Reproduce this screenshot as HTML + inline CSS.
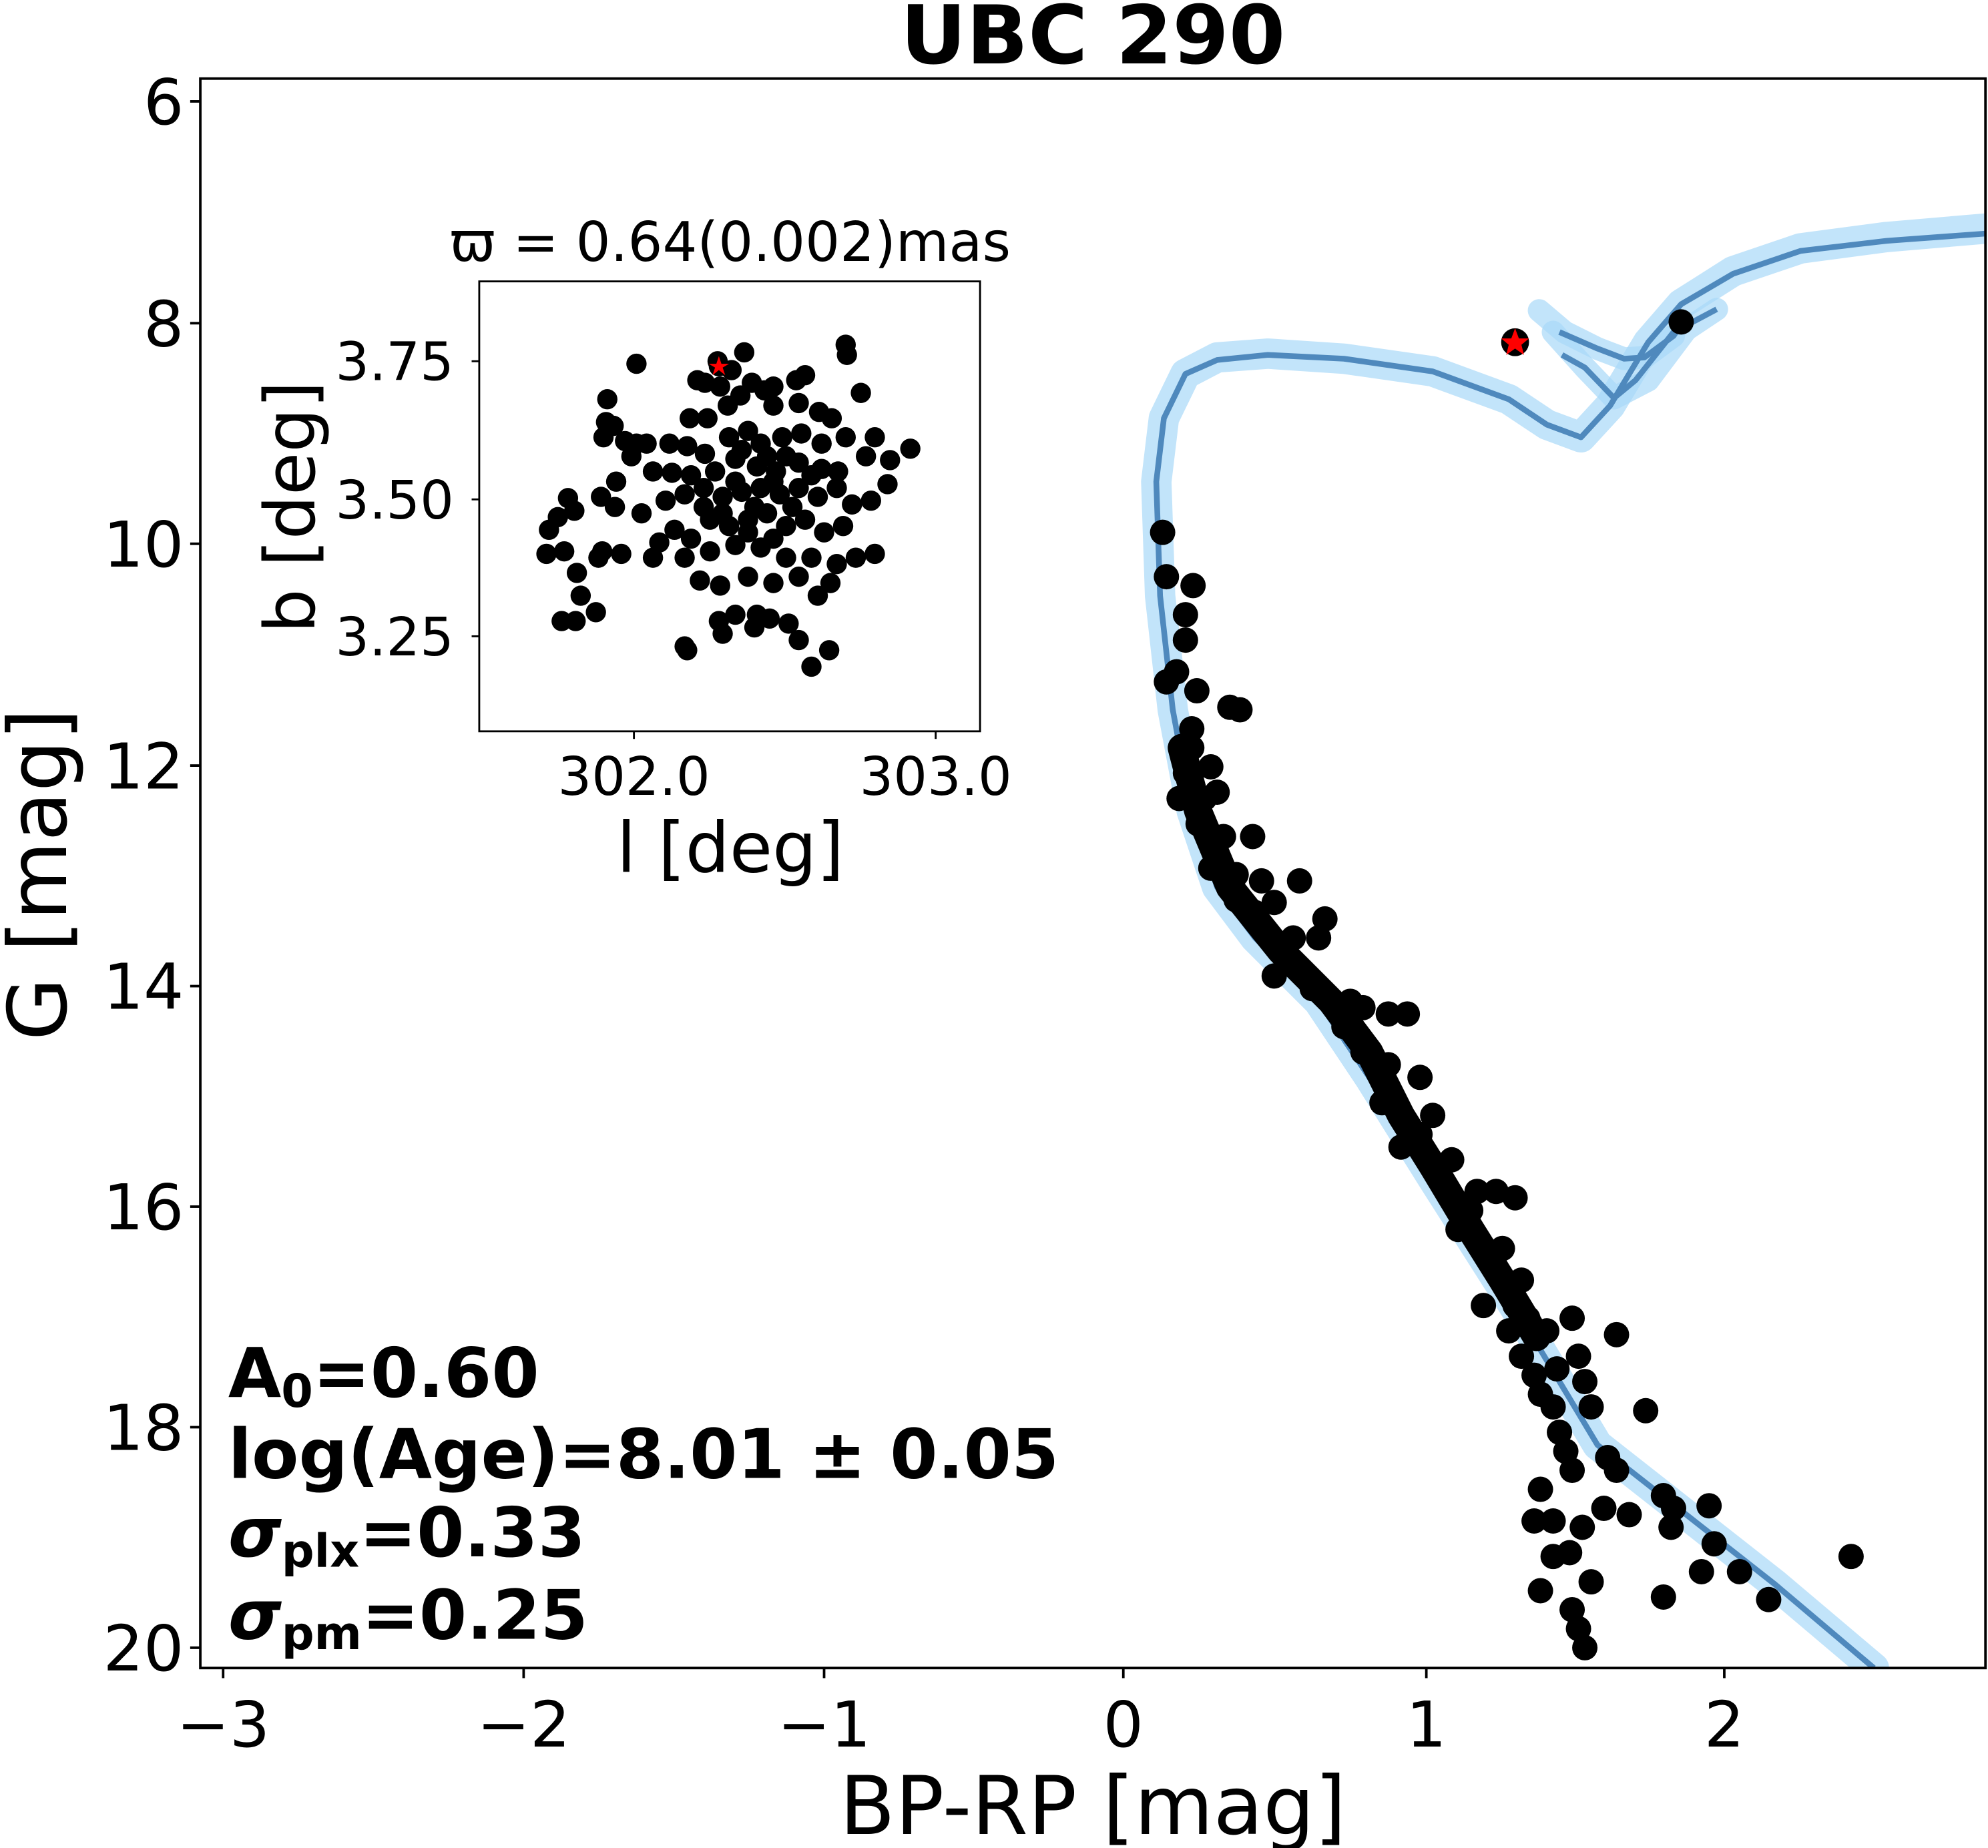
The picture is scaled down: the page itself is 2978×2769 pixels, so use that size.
<!DOCTYPE html>
<html><head><meta charset="utf-8"><style>
html,body{margin:0;padding:0;background:#fff;}
svg{display:block;}
text{font-family:"DejaVu Sans","Liberation Sans",sans-serif;fill:#000;}
</style></head><body>
<svg width="2978" height="2769" viewBox="0 0 1568 1458" preserveAspectRatio="none" xmlns="http://www.w3.org/2000/svg">
<rect width="1568" height="1458" fill="#fff"/>
<text x="862" y="50" font-size="64" font-weight="bold" text-anchor="middle">UBC 290</text>
<defs><clipPath id="cp"><rect x="158" y="62" width="1408" height="1254"/></clipPath>
<clipPath id="cp2"><rect x="378" y="222" width="395" height="355"/></clipPath></defs>
<g clip-path="url(#cp)">
<g fill="none" stroke="#a8d8f8" stroke-opacity="0.7" stroke-linejoin="round" stroke-linecap="round">
<path stroke-width="24" d="M1478,1316 L1400,1250 L1330,1195 L1260,1140 L1200,1040 L1130,930 L1080,850 L1040,790 L990,740 L960,700 L940,640 L925,560 L915,470 L912,380 L918,330 L935,295 L960,282 L1000,279 L1060,283 L1130,293 L1190,315 L1220,335 L1247,345 L1270,320 L1300,270 L1326,240 L1367,214 L1420,196 L1488,187 L1570,180"/>
<path stroke-width="18" d="M1225,262 L1250,290 L1273,314 L1300,300 L1330,260 L1354,244"/>
<path stroke-width="18" d="M1214,245 L1234,262 L1260,275 L1281,283 L1297,282 L1320,265"/>
</g>
<g fill="none" stroke="#4f89bd" stroke-width="4.5" stroke-linejoin="round">
<path d="M1478,1316 L1400,1250 L1330,1195 L1260,1140 L1200,1040 L1130,930 L1080,850 L1040,790 L990,740 L960,700 L940,640 L925,560 L915,470 L912,380 L918,330 L935,295 L960,284 L1000,280 L1060,283 L1130,293 L1190,315 L1220,335 L1247,345 L1270,320 L1300,270 L1326,240 L1367,216 L1420,198 L1488,190 L1570,184"/>
<path d="M1232,280 L1250,290 L1273,314 L1290,300 L1320,262 L1354,244"/>
<path d="M1230,262 L1260,275 L1281,283 L1297,282 L1320,265 L1330,250"/>
</g>
<polyline fill="none" stroke="#000" stroke-width="22" stroke-linecap="round" stroke-linejoin="round" points="932,590 945,640 970,700 1010,750 1050,790 1080,830 1105,880 1130,920 1160,970 1185,1010 1212,1055"/>
<g fill="#000">
<circle cx="917" cy="420" r="10"/><circle cx="920" cy="455" r="10"/><circle cx="941" cy="462" r="10"/><circle cx="935" cy="485" r="10"/><circle cx="935" cy="505" r="10"/><circle cx="928" cy="530" r="10"/><circle cx="920" cy="538" r="10"/><circle cx="944" cy="545" r="10"/><circle cx="970" cy="558" r="10"/><circle cx="978" cy="560" r="10"/><circle cx="940" cy="575" r="10"/><circle cx="940" cy="590" r="10"/><circle cx="935" cy="610" r="10"/><circle cx="955" cy="605" r="10"/><circle cx="960" cy="625" r="10"/><circle cx="930" cy="630" r="10"/><circle cx="945" cy="650" r="10"/><circle cx="965" cy="660" r="10"/><circle cx="988" cy="660" r="10"/><circle cx="955" cy="685" r="10"/><circle cx="975" cy="690" r="10"/><circle cx="995" cy="695" r="10"/><circle cx="1025" cy="695" r="10"/><circle cx="1005" cy="712" r="10"/><circle cx="1045" cy="725" r="10"/><circle cx="1040" cy="740" r="10"/><circle cx="1020" cy="740" r="10"/><circle cx="1005" cy="770" r="10"/><circle cx="1035" cy="780" r="10"/><circle cx="1075" cy="795" r="10"/><circle cx="1095" cy="800" r="10"/><circle cx="1110" cy="800" r="10"/><circle cx="1060" cy="810" r="10"/><circle cx="1120" cy="850" r="10"/><circle cx="1090" cy="870" r="10"/><circle cx="1130" cy="880" r="10"/><circle cx="1105" cy="905" r="10"/><circle cx="1145" cy="915" r="10"/><circle cx="1165" cy="940" r="10"/><circle cx="1180" cy="940" r="10"/><circle cx="1195" cy="945" r="10"/><circle cx="1150" cy="970" r="10"/><circle cx="1185" cy="985" r="10"/><circle cx="1200" cy="1010" r="10"/><circle cx="1170" cy="1030" r="10"/><circle cx="1205" cy="1040" r="10"/><circle cx="1240" cy="1040" r="10"/><circle cx="1220" cy="1050" r="10"/><circle cx="1275" cy="1053" r="10"/><circle cx="1245" cy="1070" r="10"/><circle cx="1200" cy="1070" r="10"/><circle cx="1210" cy="1085" r="10"/><circle cx="1250" cy="1090" r="10"/><circle cx="1230" cy="1130" r="10"/><circle cx="1298" cy="1113" r="10"/><circle cx="1255" cy="1110" r="10"/><circle cx="1268" cy="1150" r="10"/><circle cx="1240" cy="1160" r="10"/><circle cx="1275" cy="1160" r="10"/><circle cx="1215" cy="1175" r="10"/><circle cx="1210" cy="1200" r="10"/><circle cx="1265" cy="1190" r="10"/><circle cx="1285" cy="1195" r="10"/><circle cx="1312" cy="1180" r="10"/><circle cx="1320" cy="1190" r="10"/><circle cx="1318" cy="1205" r="10"/><circle cx="1248" cy="1205" r="10"/><circle cx="1238" cy="1225" r="10"/><circle cx="1225" cy="1228" r="10"/><circle cx="1352" cy="1218" r="10"/><circle cx="1372" cy="1240" r="10"/><circle cx="1342" cy="1240" r="10"/><circle cx="1348" cy="1188" r="10"/><circle cx="1460" cy="1228" r="10"/><circle cx="1215" cy="1255" r="10"/><circle cx="1255" cy="1248" r="10"/><circle cx="1312" cy="1260" r="10"/><circle cx="1395" cy="1262" r="10"/><circle cx="1240" cy="1270" r="10"/><circle cx="1245" cy="1285" r="10"/><circle cx="1250" cy="1300" r="10"/><circle cx="1225" cy="1200" r="10"/><circle cx="1225" cy="1110" r="10"/><circle cx="1235" cy="1145" r="10"/>
<circle cx="950" cy="630" r="10"/><circle cx="975" cy="710" r="10"/><circle cx="990" cy="720" r="10"/><circle cx="1015" cy="760" r="10"/><circle cx="1065" cy="790" r="10"/><circle cx="1075" cy="830" r="10"/><circle cx="1095" cy="840" r="10"/><circle cx="1120" cy="895" r="10"/><circle cx="1140" cy="935" r="10"/><circle cx="1160" cy="955" r="10"/><circle cx="1180" cy="1000" r="10"/><circle cx="1195" cy="1030" r="10"/><circle cx="1190" cy="1050" r="10"/><circle cx="1215" cy="1100" r="10"/><circle cx="1228" cy="1080" r="10"/>
<circle cx="1326" cy="254" r="10"/>
<circle cx="1195" cy="270" r="11"/>
</g>
<polygon fill="#f00" points="1195,259 1198,267 1206,267 1200,272 1202,280 1195,275 1188,280 1190,272 1184,267 1192,267"/>
</g>
<rect x="158" y="62" width="1408" height="1254" fill="none" stroke="#000" stroke-width="2"/>
<g stroke="#000" stroke-width="2">
<line x1="176" y1="1316" x2="176" y2="1324"/><line x1="413" y1="1316" x2="413" y2="1324"/><line x1="650" y1="1316" x2="650" y2="1324"/><line x1="886" y1="1316" x2="886" y2="1324"/><line x1="1125" y1="1316" x2="1125" y2="1324"/><line x1="1360" y1="1316" x2="1360" y2="1324"/>
<line x1="150" y1="80" x2="158" y2="80"/><line x1="150" y1="255" x2="158" y2="255"/><line x1="150" y1="429" x2="158" y2="429"/><line x1="150" y1="604" x2="158" y2="604"/><line x1="150" y1="778" x2="158" y2="778"/><line x1="150" y1="952" x2="158" y2="952"/><line x1="150" y1="1126" x2="158" y2="1126"/><line x1="150" y1="1300" x2="158" y2="1300"/>
</g>
<g font-size="50" text-anchor="middle">
<text x="176" y="1378">−3</text><text x="413" y="1378">−2</text><text x="650" y="1378">−1</text><text x="886" y="1378">0</text><text x="1125" y="1378">1</text><text x="1360" y="1378">2</text>
</g>
<g font-size="50" text-anchor="end">
<text x="145" y="98">6</text><text x="145" y="273">8</text><text x="145" y="447">10</text><text x="145" y="622">12</text><text x="145" y="796">14</text><text x="145" y="970">16</text><text x="145" y="1144">18</text><text x="145" y="1318">20</text>
</g>
<text x="862" y="1447" font-size="64" text-anchor="middle">BP-RP [mag]</text>
<text transform="translate(52,690) rotate(-90)" font-size="64" text-anchor="middle">G [mag]</text>
<g font-size="54" font-weight="bold">
<text x="180" y="1102">A<tspan font-size="36" dy="8">0</tspan><tspan dy="-8">=0.60</tspan></text>
<text x="180" y="1166">log(Age)=8.01 ± 0.05</text>
<text x="180" y="1228"><tspan font-style="italic">σ</tspan><tspan font-size="36" dy="8">plx</tspan><tspan dy="-8">=0.33</tspan></text>
<text x="180" y="1293"><tspan font-style="italic">σ</tspan><tspan font-size="36" dy="8">pm</tspan><tspan dy="-8">=0.25</tspan></text>
</g>
<rect x="378" y="222" width="395" height="355" fill="#fff"/>
<g clip-path="url(#cp2)" fill="#000">
<circle cx="502" cy="287" r="8"/><circle cx="587" cy="278" r="8"/><circle cx="667" cy="272" r="8"/><circle cx="668" cy="280" r="8"/><circle cx="566" cy="285" r="8"/><circle cx="577" cy="292" r="8"/><circle cx="550" cy="300" r="8"/><circle cx="556" cy="302" r="8"/><circle cx="568" cy="305" r="8"/><circle cx="593" cy="302" r="8"/><circle cx="603" cy="308" r="8"/><circle cx="610" cy="305" r="8"/><circle cx="628" cy="300" r="8"/><circle cx="635" cy="296" r="8"/><circle cx="679" cy="310" r="8"/><circle cx="479" cy="315" r="8"/><circle cx="544" cy="330" r="8"/><circle cx="558" cy="330" r="8"/><circle cx="574" cy="320" r="8"/><circle cx="584" cy="312" r="8"/><circle cx="610" cy="320" r="8"/><circle cx="630" cy="318" r="8"/><circle cx="646" cy="325" r="8"/><circle cx="656" cy="330" r="8"/><circle cx="478" cy="333" r="8"/><circle cx="484" cy="336" r="8"/><circle cx="476" cy="345" r="8"/><circle cx="493" cy="348" r="8"/><circle cx="502" cy="350" r="8"/><circle cx="510" cy="350" r="8"/><circle cx="498" cy="360" r="8"/><circle cx="528" cy="350" r="8"/><circle cx="542" cy="352" r="8"/><circle cx="556" cy="358" r="8"/><circle cx="575" cy="345" r="8"/><circle cx="590" cy="340" r="8"/><circle cx="600" cy="350" r="8"/><circle cx="617" cy="345" r="8"/><circle cx="632" cy="342" r="8"/><circle cx="648" cy="350" r="8"/><circle cx="667" cy="345" r="8"/><circle cx="690" cy="345" r="8"/><circle cx="718" cy="354" r="8"/><circle cx="702" cy="363" r="8"/><circle cx="683" cy="360" r="8"/><circle cx="661" cy="372" r="8"/><circle cx="648" cy="370" r="8"/><circle cx="630" cy="365" r="8"/><circle cx="612" cy="372" r="8"/><circle cx="597" cy="368" r="8"/><circle cx="580" cy="362" r="8"/><circle cx="564" cy="372" r="8"/><circle cx="545" cy="375" r="8"/><circle cx="530" cy="373" r="8"/><circle cx="515" cy="372" r="8"/><circle cx="486" cy="380" r="8"/><circle cx="474" cy="392" r="8"/><circle cx="448" cy="393" r="8"/><circle cx="485" cy="400" r="8"/><circle cx="506" cy="405" r="8"/><circle cx="525" cy="395" r="8"/><circle cx="540" cy="390" r="8"/><circle cx="555" cy="385" r="8"/><circle cx="570" cy="392" r="8"/><circle cx="585" cy="388" r="8"/><circle cx="600" cy="385" r="8"/><circle cx="615" cy="390" r="8"/><circle cx="630" cy="385" r="8"/><circle cx="645" cy="392" r="8"/><circle cx="660" cy="385" r="8"/><circle cx="672" cy="398" r="8"/><circle cx="687" cy="395" r="8"/><circle cx="700" cy="382" r="8"/><circle cx="440" cy="408" r="8"/><circle cx="453" cy="403" r="8"/><circle cx="433" cy="418" r="8"/><circle cx="431" cy="437" r="8"/><circle cx="445" cy="435" r="8"/><circle cx="475" cy="435" r="8"/><circle cx="472" cy="440" r="8"/><circle cx="490" cy="437" r="8"/><circle cx="520" cy="428" r="8"/><circle cx="532" cy="418" r="8"/><circle cx="545" cy="425" r="8"/><circle cx="560" cy="410" r="8"/><circle cx="575" cy="415" r="8"/><circle cx="590" cy="410" r="8"/><circle cx="605" cy="405" r="8"/><circle cx="620" cy="415" r="8"/><circle cx="635" cy="410" r="8"/><circle cx="650" cy="420" r="8"/><circle cx="665" cy="415" r="8"/><circle cx="690" cy="437" r="8"/><circle cx="455" cy="452" r="8"/><circle cx="515" cy="440" r="8"/><circle cx="540" cy="440" r="8"/><circle cx="560" cy="435" r="8"/><circle cx="580" cy="430" r="8"/><circle cx="600" cy="432" r="8"/><circle cx="620" cy="440" r="8"/><circle cx="640" cy="440" r="8"/><circle cx="660" cy="445" r="8"/><circle cx="675" cy="440" r="8"/><circle cx="458" cy="470" r="8"/><circle cx="443" cy="490" r="8"/><circle cx="454" cy="490" r="8"/><circle cx="470" cy="483" r="8"/><circle cx="552" cy="458" r="8"/><circle cx="568" cy="462" r="8"/><circle cx="590" cy="455" r="8"/><circle cx="610" cy="460" r="8"/><circle cx="630" cy="455" r="8"/><circle cx="645" cy="470" r="8"/><circle cx="655" cy="460" r="8"/><circle cx="567" cy="490" r="8"/><circle cx="580" cy="485" r="8"/><circle cx="597" cy="485" r="8"/><circle cx="607" cy="488" r="8"/><circle cx="622" cy="492" r="8"/><circle cx="630" cy="505" r="8"/><circle cx="540" cy="510" r="8"/><circle cx="542" cy="513" r="8"/><circle cx="570" cy="500" r="8"/><circle cx="654" cy="513" r="8"/><circle cx="640" cy="526" r="8"/><circle cx="595" cy="495" r="8"/>
<circle cx="580" cy="380" r="8"/><circle cx="595" cy="400" r="8"/><circle cx="610" cy="380" r="8"/><circle cx="570" cy="405" r="8"/><circle cx="625" cy="400" r="8"/><circle cx="590" cy="420" r="8"/><circle cx="605" cy="360" r="8"/><circle cx="585" cy="355" r="8"/><circle cx="620" cy="360" r="8"/><circle cx="640" cy="375" r="8"/><circle cx="555" cy="400" r="8"/><circle cx="610" cy="425" r="8"/>
<circle cx="567" cy="289" r="8"/>
</g>
<polygon fill="#f00" points="567,281 569,287 575,287 570,290 572,296 567,292 562,296 564,290 559,287 565,287"/>
<rect x="378" y="222" width="395" height="355" fill="none" stroke="#000" stroke-width="1.5"/>
<g stroke="#000" stroke-width="1.5">
<line x1="500" y1="577" x2="500" y2="583"/><line x1="738" y1="577" x2="738" y2="583"/>
<line x1="372" y1="285" x2="378" y2="285"/><line x1="372" y1="394" x2="378" y2="394"/><line x1="372" y1="502" x2="378" y2="502"/>
</g>
<g font-size="42" text-anchor="middle">
<text x="500" y="627">302.0</text><text x="738" y="627">303.0</text>
</g>
<g font-size="42" text-anchor="end">
<text x="358" y="300">3.75</text><text x="358" y="409">3.50</text><text x="358" y="517">3.25</text>
</g>
<text x="576" y="688" font-size="55" text-anchor="middle">l [deg]</text>
<text transform="translate(248,400) rotate(-90)" font-size="55" text-anchor="middle">b [deg]</text>
<text x="576" y="206" font-size="43" text-anchor="middle">ϖ = 0.64(0.002)mas</text>
</svg>
</body></html>
